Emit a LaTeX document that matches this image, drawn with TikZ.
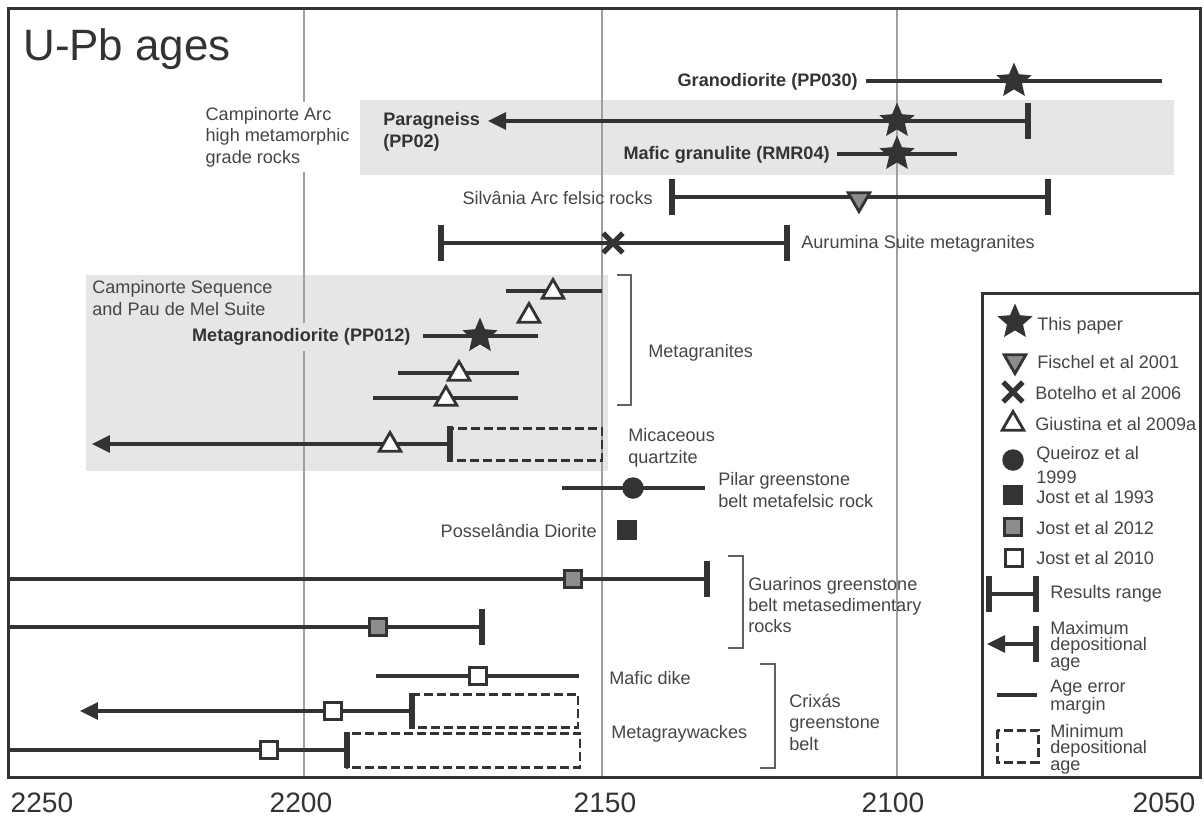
\documentclass[tikz,border=0pt]{standalone}
\usepackage{fontspec}
\setmainfont{Liberation Sans}
\usetikzlibrary{arrows.meta, shapes.geometric, shapes.misc}
\definecolor{ink}{HTML}{333333}
\definecolor{txt}{HTML}{454545}
\definecolor{bandgray}{HTML}{E6E6E6}
\definecolor{gridgray}{HTML}{A0A0A0}
\definecolor{midgray}{HTML}{8C8C8C}
\tikzset{
  errline/.style={draw=ink, line width=1.75pt},
  tickbar/.style={draw=ink, line width=3.3pt},
  maxarrow/.style={errline, -{Triangle[length=0.36cm, width=0.34cm]}},
  minbox/.style={draw=ink, line width=1.7pt, dash pattern=on 5pt off 2.4pt},
  gridline/.style={draw=gridgray, line width=1.1pt},
  bracket/.style={draw=txt!85, line width=0.9pt},
  lbl/.style={inner sep=0pt, text=txt, align=left, font=\fontsize{10.3}{12.2}\selectfont},
  boldlbl/.style={lbl, text=ink, font=\fontsize{10.3}{12.2}\selectfont\bfseries},
  leglbl/.style={lbl, font=\fontsize{10.3}{9.4}\selectfont},
  yearlbl/.style={inner sep=0pt, text=ink, font=\fontsize{16}{18}\selectfont},
  starmark/.style={star, star points=5, star point ratio=2.2, fill=ink, inner sep=0pt, minimum size=0.74cm},
  triup/.style={regular polygon, regular polygon sides=3, draw=ink, fill=white, line width=1.6pt, inner sep=0pt, minimum size=0.5cm},
  tridown/.style={triup, shape border rotate=180, fill=midgray},
  crossmark/.style={cross out, draw=ink, line width=2.9pt, inner sep=0pt, minimum size=0.29cm},
  dotmark/.style={circle, fill=ink, inner sep=0pt, minimum size=0.43cm},
  sqmark/.style={rectangle, draw=ink, line width=1.5pt, inner sep=0pt, minimum size=0.35cm},
}
\newcommand{\agetick}[1]{\draw[tickbar] ([yshift=0.36cm]#1) -- ([yshift=-0.36cm]#1);}

\begin{document}
\begin{tikzpicture}[x=0.02cm, y=-0.02cm]
\useasboundingbox (0,0) rectangle (1204,819);
\fill[bandgray] (360,100) rectangle (1174,175);
\fill[bandgray] (86,275) rectangle (608,471);
\foreach \gx in {304,602,897} \draw[gridline] (\gx,8) -- (\gx,777);
\draw[ink, line width=1.7pt] (8.5,8.5) rectangle (1200.5,777);
\node[inner sep=0pt, text=ink, font=\fontsize{25}{28}\selectfont, anchor=base west] (title) at (23,60) {U-Pb ages};

% Campinorte Arc
\node[lbl, anchor=west, fill=white, inner sep=3pt] (ca-t) at (200,137) {Campinorte Arc\\high metamorphic\\grade rocks};
\coordinate (gd-a) at (866,81); \coordinate (gd-b) at (1162,81);
\draw[errline] (gd-a) -- (gd-b);
\node[starmark] (gd-m) at (1014,81) {};
\node[boldlbl, anchor=east] (gd-t) at (858,82) {Granodiorite (PP030)};
\coordinate (pg-a) at (488,121); \coordinate (pg-b) at (1028,121);
\draw[maxarrow] (pg-b) -- (pg-a);
\agetick{pg-b}
\node[starmark] (pg-m) at (897,121) {};
\node[boldlbl, anchor=west] (pg-t) at (383,132) {Paragneiss\\(PP02)};
\coordinate (mg-a) at (837,154); \coordinate (mg-b) at (957,154);
\draw[errline] (mg-a) -- (mg-b);
\node[starmark] (mg-m) at (897,154) {};
\node[boldlbl, anchor=east] (mg-t) at (830,155) {Mafic granulite (RMR04)};

% Silvania and Aurumina
\coordinate (sv-a) at (672,197); \coordinate (sv-b) at (1048,197);
\draw[errline] (sv-a) -- (sv-b);
\agetick{sv-a} \agetick{sv-b}
\node[tridown] (sv-m) at (859,199) {};
\node[lbl, anchor=east] (sv-t) at (653,198) {Silvânia Arc felsic rocks};
\coordinate (au-a) at (441,243); \coordinate (au-b) at (787,243);
\draw[errline] (au-a) -- (au-b);
\agetick{au-a} \agetick{au-b}
\node[crossmark] (au-m) at (613,243) {};
\node[lbl, anchor=west] (au-t) at (801,244) {Aurumina Suite metagranites};

% Campinorte Sequence
\node[lbl, anchor=west] (cs-t) at (92,298) {Campinorte Sequence\\and Pau de Mel Suite};
\coordinate (ra-a) at (506,291); \coordinate (ra-b) at (602,291);
\draw[errline] (ra-a) -- (ra-b);
\node[triup] (ra-m) at (553,292) {};
\node[triup] (rb-m) at (529,316) {};
\coordinate (rc-a) at (423,336); \coordinate (rc-b) at (538,336);
\node[boldlbl, anchor=east, fill=bandgray, inner sep=3pt] (rc-t) at (416,337) {Metagranodiorite (PP012)};
\draw[errline] (rc-a) -- (rc-b);
\node[starmark] (rc-m) at (480,336) {};
\coordinate (rd-a) at (398,373); \coordinate (rd-b) at (519,373);
\draw[errline] (rd-a) -- (rd-b);
\node[triup] (rd-m) at (459,374) {};
\coordinate (re-a) at (373,398); \coordinate (re-b) at (518,398);
\draw[errline] (re-a) -- (re-b);
\node[triup] (re-m) at (446,399) {};
\coordinate (rf-a) at (92,444); \coordinate (rf-b) at (450,444); \coordinate (rf-c) at (602,460);
\draw[maxarrow] (rf-b) -- (rf-a);
\draw[minbox] ([yshift=0.32cm]rf-b) rectangle (rf-c);
\agetick{rf-b}
\node[triup] (rf-m) at (390,445) {};
\draw[bracket] (617,275) -- (631,275) -- (631,405) -- (617,405);
\node[lbl, anchor=west] (mgr-t) at (648,353) {Metagranites};
\node[lbl, anchor=west] (mq-t) at (628,448) {Micaceous\\quartzite};

% Pilar and Posselandia
\coordinate (pl-a) at (562,488); \coordinate (pl-b) at (705,488);
\draw[errline] (pl-a) -- (pl-b);
\node[dotmark] (pl-m) at (633,488) {};
\node[lbl, anchor=west] (pl-t) at (718,490) {Pilar greenstone\\belt metafelsic rock};
\node[sqmark, fill=ink] (ps-m) at (627,530) {};
\node[lbl, anchor=east] (ps-t) at (597,531) {Posselândia Diorite};

% Guarinos
\coordinate (g1-a) at (8,579); \coordinate (g1-b) at (707,579);
\draw[errline] (g1-a) -- (g1-b);
\agetick{g1-b}
\node[sqmark, fill=midgray] (g1-m) at (573,579) {};
\coordinate (g2-a) at (8,627); \coordinate (g2-b) at (482,627);
\draw[errline] (g2-a) -- (g2-b);
\agetick{g2-b}
\node[sqmark, fill=midgray] (g2-m) at (378,627) {};
\draw[bracket] (728,556) -- (743,556) -- (743,648) -- (728,648);
\node[lbl, anchor=west] (gu-t) at (748,605) {Guarinos greenstone\\belt metasedimentary\\rocks};

% Crixas
\coordinate (md-a) at (376,676); \coordinate (md-b) at (579,676);
\draw[errline] (md-a) -- (md-b);
\node[sqmark, fill=white] (md-m) at (478,676) {};
\node[lbl, anchor=west] (md-t) at (609,678) {Mafic dike};
\coordinate (w1-a) at (80,711); \coordinate (w1-b) at (412,711); \coordinate (w1-c) at (578,727);
\draw[maxarrow] (w1-b) -- (w1-a);
\draw[minbox] ([yshift=0.34cm]w1-b) rectangle (w1-c);
\agetick{w1-b}
\node[sqmark, fill=white] (w1-m) at (333,711) {};
\coordinate (w2-a) at (8,750); \coordinate (w2-b) at (347,750); \coordinate (w2-c) at (580,767);
\draw[errline] (w2-a) -- (w2-b);
\draw[minbox] ([yshift=0.34cm]w2-b) rectangle (w2-c);
\agetick{w2-b}
\node[sqmark, fill=white] (w2-m) at (269,750) {};
\node[lbl, anchor=west] (mw-t) at (611,734) {Metagraywackes};
\draw[bracket] (760,664) -- (775,664) -- (775,768) -- (760,768);
\node[lbl, anchor=west] (cx-t) at (789,722) {Crixás\\greenstone\\belt};

% axis
\node[yearlbl] (y2250) at (42,803) {2250};
\node[yearlbl] (y2200) at (301,803) {2200};
\node[yearlbl] (y2150) at (605,803) {2150};
\node[yearlbl] (y2100) at (893,803) {2100};
\node[yearlbl] (y2050) at (1164,803) {2050};

% legend
\draw[ink, line width=1.7pt, fill=white] (982,293) rectangle (1200.5,777);
\node[starmark] (lg1) at (1015,322) {};
\node[lbl, anchor=west] at (1037,326) {This paper};
\node[tridown] (lg2) at (1015,361) {};
\node[lbl, anchor=west] at (1037,362) {Fischel et al 2001};
\node[crossmark] (lg3) at (1013,392) {};
\node[lbl, anchor=west] at (1035,393) {Botelho et al 2006};
\node[triup] (lg4) at (1013,424) {};
\node[lbl, anchor=west] at (1035,424) {Giustina et al 2009a};
\node[dotmark] (lg5) at (1013,460) {};
\node[lbl, anchor=west, font=\fontsize{10.3}{13.4}\selectfont] at (1036,465) {Queiroz et al\\1999};
\node[sqmark, fill=ink] (lg6) at (1013,495) {};
\node[lbl, anchor=west] at (1036,497) {Jost et al 1993};
\node[sqmark, fill=midgray] (lg7) at (1013,527) {};
\node[lbl, anchor=west] at (1036,528) {Jost et al 2012};
\node[sqmark, fill=white] (lg8) at (1014,558) {};
\node[lbl, anchor=west] at (1036,558) {Jost et al 2010};
\coordinate (rr-a) at (989,594); \coordinate (rr-b) at (1036,594);
\draw[errline] (rr-a) -- (rr-b);
\agetick{rr-a} \agetick{rr-b}
\node[lbl, anchor=west] at (1050,594) {Results range};
\coordinate (ma-a) at (987,644); \coordinate (ma-b) at (1036,644);
\draw[maxarrow] (ma-b) -- (ma-a);
\agetick{ma-b}
\node[leglbl, anchor=west] at (1050,646) {Maximum\\depositional\\age};
\coordinate (em-a) at (997,695); \coordinate (em-b) at (1037,695);
\draw[errline] (em-a) -- (em-b);
\node[leglbl, anchor=west] at (1050,697) {Age error\\margin};
\coordinate (mn-a) at (997,730); \coordinate (mn-b) at (1038,762);
\draw[minbox] (mn-a) rectangle (mn-b);
\node[leglbl, anchor=west] at (1050,749) {Minimum\\depositional\\age};
\end{tikzpicture}
\end{document}
